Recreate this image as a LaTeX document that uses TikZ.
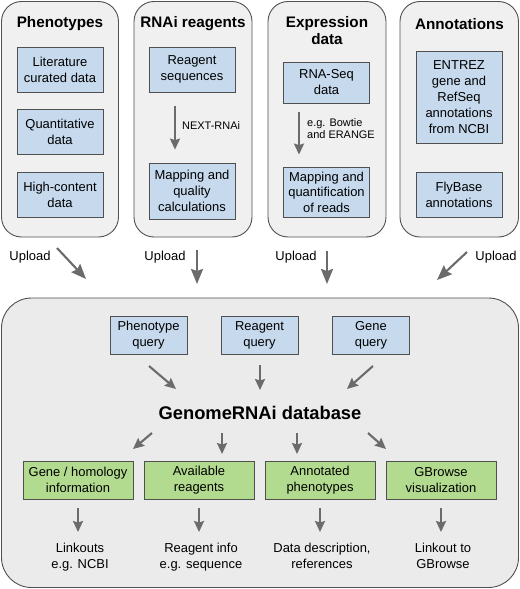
\documentclass[tikz,border=0pt]{standalone}
\usepackage{fontspec}
\setmainfont{Liberation Sans}
\usepackage{xcolor}
\usetikzlibrary{arrows.meta}

\definecolor{panelfill}{HTML}{F0F0F0}
\definecolor{panelline}{HTML}{505050}
\definecolor{boxblue}{HTML}{C6D9ED}
\definecolor{boxgreen}{HTML}{B3DB8F}
\definecolor{arrowgray}{HTML}{6B6B6B}

\begin{document}
\begin{tikzpicture}[x=1bp, y=-1bp,
  panel/.style={draw=panelline, fill=panelfill, line width=0.9bp, rounded corners=20bp},
  box/.style={draw=panelline, line width=0.8bp, align=center, inner sep=0pt,
    minimum width=86bp, font=\fontsize{13}{16}\selectfont},
  bluebox/.style={box, fill=boxblue},
  greenbox/.style={box, fill=boxgreen, minimum width=110bp, minimum height=38bp},
  paneltitle/.style={font=\fontsize{15.3}{17}\bfseries\selectfont, align=center},
  txt/.style={font=\fontsize{13}{16}\selectfont, align=center, inner sep=0pt},
  note/.style={font=\fontsize{11}{11.5}\selectfont, align=left, anchor=west, inner sep=0pt},
  arr/.style={draw=arrowgray, line width=2.1bp, -{Stealth[length=11bp, width=10bp, inset=1.5bp]}},
  bigarr/.style={arr, -{Stealth[length=15bp, width=12bp, inset=2bp]}}]
  \useasboundingbox (0,0) rectangle (520,589);

  % Phenotypes panel
  \draw[panel] (1.5,1.5) rectangle (118.5,237);
  \node[paneltitle] (phenotitle) at (60,24) {Phenotypes};
  \node[bluebox, minimum height=45bp] (litdata) at (60,69.5) {Literature\\curated data};
  \node[bluebox, minimum height=45bp] (quantdata) at (60,132) {Quantitative\\data};
  \node[bluebox, minimum height=45bp] (hcdata) at (60,194.5) {High-content\\data};

  % RNAi reagents panel
  \draw[panel] (134,1.5) rectangle (252,237);
  \node[paneltitle] (rnaititle) at (193,24) {RNAi reagents};
  \node[bluebox, minimum height=45bp] (reagseq) at (192,69.5) {Reagent\\sequences};
  \node[bluebox, minimum height=56bp] (mapqual) at (192,191) {Mapping and\\quality\\calculations};
  \draw[arr, shorten <=14bp, shorten >=13bp] ([xshift=-17bp]reagseq.south) -- ([xshift=-17bp]mapqual.north);
  \node[note] (nextrnai) at (182,126) {NEXT-RNAi};

  % Expression data panel
  \draw[panel] (268,1.5) rectangle (386,237);
  \node[paneltitle] (exprtitle) at (327,30.5) {Expression\\data};
  \node[bluebox, minimum height=41bp] (rnaseq) at (326.5,82.5) {RNA-Seq\\data};
  \node[bluebox, minimum height=50bp, font=\fontsize{13}{15.5}\selectfont] (mapquant) at (326.5,192) {Mapping and\\quantification\\of reads};
  \draw[arr, shorten <=9bp, shorten >=12bp] ([xshift=-27.5bp]rnaseq.south) -- ([xshift=-27.5bp]mapquant.north);
  \node[note] (bowtie) at (307,128.5) {e.g. Bowtie\\and ERANGE};

  % Annotations panel
  \draw[panel] (400,1.5) rectangle (518.5,237);
  \node[paneltitle] (annotitle) at (459.5,24) {Annotations};
  \node[bluebox, minimum height=92bp] (entrez) at (459,97) {ENTREZ\\gene and\\RefSeq\\annotations\\from NCBI};
  \node[bluebox, minimum height=45bp] (flybase) at (459,194.5) {FlyBase\\annotations};

  % Upload arrows
  \node[txt] (upload1) at (30,257) {Upload};
  \node[txt] (upload2) at (165,257) {Upload};
  \node[txt] (upload3) at (296,257) {Upload};
  \node[txt] (upload4) at (496,257) {Upload};
  \coordinate (up1s) at (57,248);   \coordinate (up1e) at (86,279);
  \coordinate (up2s) at (197,250);  \coordinate (up2e) at (197,284);
  \coordinate (up3s) at (327,251);  \coordinate (up3e) at (327,284);
  \coordinate (up4s) at (467,252);  \coordinate (up4e) at (437,280);
  \draw[bigarr] (up1s) -- (up1e);
  \draw[bigarr] (up2s) -- (up2e);
  \draw[bigarr] (up3s) -- (up3e);
  \draw[bigarr] (up4s) -- (up4e);

  % GenomeRNAi database panel
  \draw[panel, fill=panelfill!95!black!40!panelfill, rounded corners=30bp] (1.5,298) rectangle (518.5,587.5);
  \node[bluebox, minimum width=77bp, minimum height=38bp] (phenoquery) at (148.5,335) {Phenotype\\query};
  \node[bluebox, minimum width=77bp, minimum height=38bp] (reagquery) at (259.5,335) {Reagent\\query};
  \node[bluebox, minimum width=77bp, minimum height=38bp] (genequery) at (371,335) {Gene\\query};
  \node[font=\fontsize{18.4}{20}\bfseries\selectfont] (db) at (260,413) {GenomeRNAi database};

  % Query arrows into the database
  \coordinate (q1s) at (149,366); \coordinate (q1e) at (176,389);
  \coordinate (q2s) at (260,365); \coordinate (q2e) at (260,390);
  \coordinate (q3s) at (373,366); \coordinate (q3e) at (347,389);
  \draw[arr] (q1s) -- (q1e);
  \draw[arr] (q2s) -- (q2e);
  \draw[arr] (q3s) -- (q3e);

  % Database output boxes
  \node[greenbox] (genebox) at (78,480) {Gene / homology\\information};
  \node[greenbox] (reagbox) at (199,480) {Available\\reagents};
  \node[greenbox] (phenobox) at (320,480) {Annotated\\phenotypes};
  \node[greenbox] (gbrowsebox) at (441,480) {GBrowse\\visualization};
  \coordinate (d1s) at (152,433); \coordinate (d1e) at (133,449);
  \coordinate (d2s) at (222,433); \coordinate (d2e) at (222,454);
  \coordinate (d3s) at (297,433); \coordinate (d3e) at (297,454);
  \coordinate (d4s) at (368,433); \coordinate (d4e) at (386,449);
  \draw[arr] (d1s) -- (d1e);
  \draw[arr] (d2s) -- (d2e);
  \draw[arr] (d3s) -- (d3e);
  \draw[arr] (d4s) -- (d4e);

  % Linkout texts
  \node[txt, anchor=north] (linkouts) at (80,543) {Linkouts\\e.g. NCBI};
  \node[txt, anchor=north] (reaginfo) at (201,543) {Reagent info\\e.g. sequence};
  \node[txt, anchor=north] (datadesc) at (322,543) {Data description,\\references};
  \node[txt, anchor=north] (linkgb) at (443,543) {Linkout to\\GBrowse};
  \draw[arr, shorten <=9bp, shorten >=11bp] (genebox.south) -- (genebox.south |- linkouts.north);
  \draw[arr, shorten <=9bp, shorten >=11bp] (reagbox.south) -- (reagbox.south |- reaginfo.north);
  \draw[arr, shorten <=9bp, shorten >=11bp] (phenobox.south) -- (phenobox.south |- datadesc.north);
  \draw[arr, shorten <=9bp, shorten >=11bp] (gbrowsebox.south) -- (gbrowsebox.south |- linkgb.north);
\end{tikzpicture}
\end{document}
